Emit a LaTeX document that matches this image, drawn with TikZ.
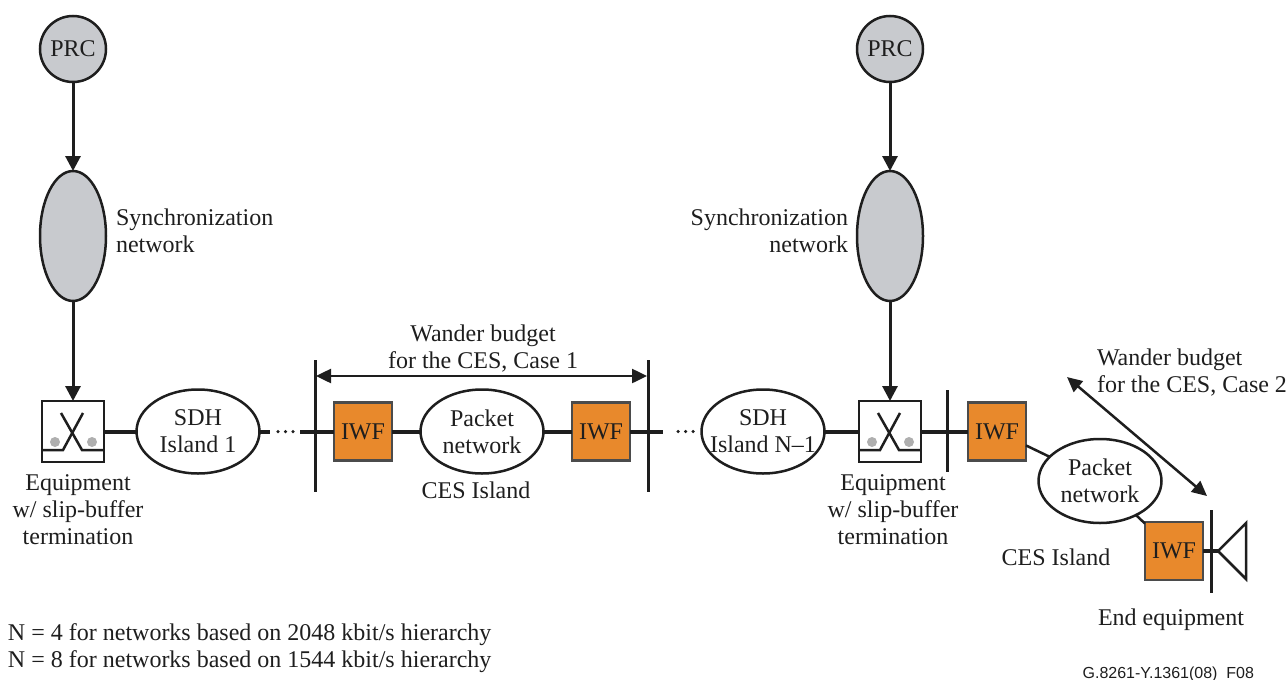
\documentclass[tikz,border=0pt]{standalone}
\usepackage{fontspec}
\setmainfont{Liberation Serif}
\setsansfont{Liberation Sans}
\usetikzlibrary{arrows.meta,shapes.geometric}

\definecolor{clkgray}{RGB}{200,202,206}
\definecolor{iwforange}{RGB}{232,137,44}
\definecolor{dotgray}{RGB}{175,175,175}
\definecolor{inkline}{RGB}{30,30,30}

\tikzset{
  every node/.style={font=\fontsize{24}{27}\selectfont,text=inkline,align=center,inner sep=0pt,outer sep=0pt},
  prc/.style={circle,draw=inkline,line width=2.5pt,fill=clkgray,minimum size=66pt},
  syncnet/.style={ellipse,draw=inkline,line width=2.5pt,fill=clkgray,minimum width=66pt,minimum height=130pt},
  island/.style={ellipse,draw=inkline,line width=2.5pt,fill=white,inner xsep=-25pt,inner ysep=-5pt,minimum width=123pt,minimum height=84pt},
  iwf/.style={rectangle,draw=inkline!80,line width=2.5pt,fill=iwforange,minimum width=58pt,minimum height=58pt},
  slipbox/.style={rectangle,draw=inkline,line width=2.5pt,fill=white,minimum width=62pt,minimum height=61pt},
  link/.style={draw=inkline,line width=4pt},
  thin link/.style={draw=inkline,line width=2.5pt},
  bar/.style={draw=inkline,line width=3pt},
  flow/.style={draw=inkline,line width=3pt,-{Triangle[length=15pt,width=15pt]}},
  budget/.style={draw=inkline,line width=2.5pt,{Triangle[length=15pt,width=14pt]}-{Triangle[length=15pt,width=14pt]}},
  more/.style={draw=inkline,line width=3.5pt,line cap=round,dash pattern=on 0pt off 7.5pt},
  slipmark/.style={draw=inkline,line width=2.5pt},
  slipdot/.style={circle,fill=dotgray,minimum size=10pt}
}

\begin{document}
\begin{tikzpicture}[x=1pt,y=-1pt]
  \useasboundingbox (0,0) rectangle (1288,680);

  % left clock chain
  \node[prc] (P1) at (73,49) {PRC};
  \node[syncnet] (S1) at (73,236) {};
  \node[slipbox] (B1) at (73,431.5) {};
  \node[anchor=west,align=left] (L1) at (116,231) {Synchronization\\network};
  \node (E1) at (78,510) {Equipment\\w/ slip-buffer\\termination};

  % right clock chain
  \node[prc] (P2) at (890,49) {PRC};
  \node[syncnet] (S2) at (890,236) {};
  \node[slipbox] (B2) at (890,431.5) {};
  \node[anchor=east,align=right] (L2) at (848,231) {Synchronization\\network};
  \node (E2) at (893,510) {Equipment\\w/ slip-buffer\\termination};

  % islands along the row
  \node[island] (I1) at (198,431.5) {SDH\\Island 1};
  \node[iwf] (F1) at (363,431.5) {IWF};
  \node[island] (N1) at (482,431.5) {Packet\\network};
  \node[iwf] (F2) at (601,431.5) {IWF};
  \node[island] (I2) at (763,431.5) {SDH\\Island N--1};
  \node[iwf] (F3) at (997,431.5) {IWF};
  \node[island] (N2) at (1100,481) {Packet\\network};
  \node[iwf] (F4) at (1174,551) {IWF};
  \node (C1) at (476,490) {CES Island};
  \node (C2) at (1056,557) {CES Island};
  \node (T1) at (483,349) {Wander budget\\for the CES, Case 1};
  \node[align=left,anchor=west] (T2) at (1097,373) {Wander budget\\for the CES, Case 2};
  \node (D1) at (1171,620) {End equipment};
  \node[align=left,anchor=west] (K1) at (8,648) {N = 4 for networks based on 2048 kbit/s hierarchy\\N = 8 for networks based on 1544 kbit/s hierarchy};
  \node[anchor=east,font=\sffamily\fontsize{16}{18}\selectfont] (R1) at (1254,674) {G.8261-Y.1361(08)\_F08};

  % free ends
  \coordinate (M1) at (270,431.5);
  \coordinate (M2) at (278,431.5);
  \coordinate (M3) at (296,431.5);
  \coordinate (M4) at (300,431.5);
  \coordinate (M5) at (663,431.5);
  \coordinate (M6) at (678,431.5);
  \coordinate (M7) at (696,431.5);
  \coordinate (A1) at (315,360);
  \coordinate (A2) at (315,492);
  \coordinate (A3) at (648,360);
  \coordinate (A4) at (648,492);
  \coordinate (A5) at (316,376);
  \coordinate (A6) at (647,376);
  \coordinate (A7) at (947,390);
  \coordinate (A8) at (947,472);
  \coordinate (A9) at (1211,510);
  \coordinate (A10) at (1211,593);
  \coordinate (A11) at (1067,377);
  \coordinate (A12) at (1207,496);
  \coordinate (H1) at (1218,551);
  \coordinate (H2) at (1246,523);
  \coordinate (H3) at (1246,579);

  \draw[flow] (P1) -- (S1);
  \draw[flow] (S1) -- (B1);
  \draw[flow] (P2) -- (S2);
  \draw[flow] (S2) -- (B2);

  \path[link] (B1) edge (I1);
  \path[link] (I1) edge (M1);
  \path[more] (M2) edge (M3);
  \path[link] (M4) edge (F1);
  \path[link] (F1) edge (N1);
  \path[link] (N1) edge (F2);
  \path[link] (F2) edge (M5);
  \path[more] (M6) edge (M7);
  \path[link] (I2) edge (B2);
  \path[link] (B2) edge (F3);
  \path[thin link] (F3) edge (N2);
  \path[thin link] (N2) edge (F4);
  \path[link] (F4) edge (H1);

  \path[bar] (A1) edge (A2);
  \path[bar] (A3) edge (A4);
  \path[bar] (A7) edge (A8);
  \path[bar] (A9) edge (A10);
  \draw[thin link] (H1) -- (H2) -- (H3) -- cycle;

  \draw[budget] (A5) -- (A6);
  \draw[budget] (A11) -- (A12);

  % slip-buffer marks
  \foreach \b/\x in {B1/73,B2/890} {
    \node[slipdot] (\b l) at (\x-18,442) {};
    \node[slipdot] (\b r) at (\x+19,442) {};
    \draw[slipmark] (\b.west |- 0,450) -- (\x-10,450) -- (\x+10,413);
    \draw[slipmark] (\b.east |- 0,450) -- (\x+9,450) -- (\x-12,413);
  }
\end{tikzpicture}
\end{document}
